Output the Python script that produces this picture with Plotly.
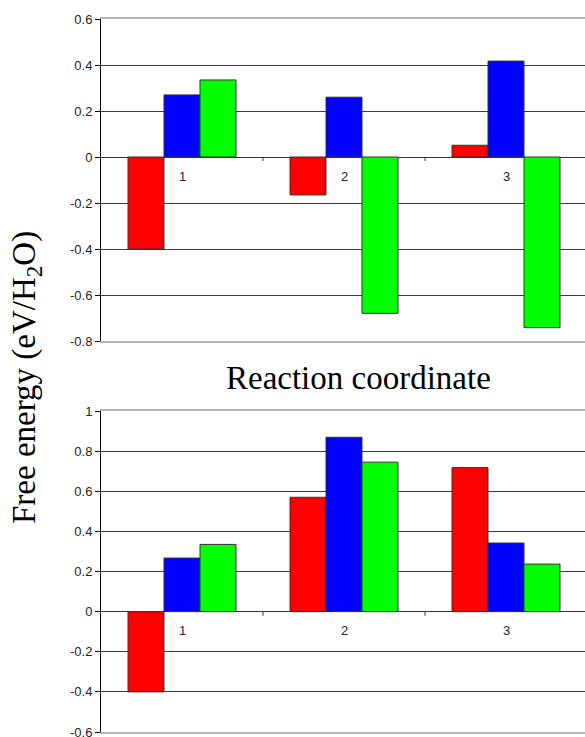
import plotly.graph_objects as go

categories = [1, 2, 3]
cat_labels = ["1", "2", "3"]

top_red = [-0.40, -0.165, 0.051]
top_blue = [0.27, 0.26, 0.417]
top_green = [0.335, -0.68, -0.742]

bot_red = [-0.40, 0.57, 0.718]
bot_blue = [0.267, 0.869, 0.342]
bot_green = [0.335, 0.745, 0.237]

top_ticks = [0.6, 0.4, 0.2, 0, -0.2, -0.4, -0.6, -0.8]
top_ticktext = ["0.6", "0.4", "0.2", "0", "-0.2", "-0.4", "-0.6", "-0.8"]
bot_ticks = [1, 0.8, 0.6, 0.4, 0.2, 0, -0.2, -0.4, -0.6]
bot_ticktext = ["1", "0.8", "0.6", "0.4", "0.2", "0", "-0.2", "-0.4", "-0.6"]

colors = ["#FF0000", "#0000FF", "#00FF00"]
outline = dict(color="#333333", width=1)

fig = go.Figure()
for vals, c in zip([top_red, top_blue, top_green], colors):
    fig.add_trace(go.Bar(x=categories, y=vals, marker=dict(color=c, line=outline),
                         xaxis="x", yaxis="y", showlegend=False, hoverinfo="skip"))
for vals, c in zip([bot_red, bot_blue, bot_green], colors):
    fig.add_trace(go.Bar(x=categories, y=vals, marker=dict(color=c, line=outline),
                         xaxis="x2", yaxis="y2", showlegend=False, hoverinfo="skip"))

W, H = 585, 737
xdom = [101 / W, 1.0]
xrange = [0.5, 0.5 + 3 * (W - 101) / 486]
tickfont = dict(family="Liberation Sans, Arial", size=13, color="#222222")

common_x = dict(range=xrange, domain=xdom, showticklabels=False, showgrid=False,
                zeroline=False, showline=True, linecolor="#b4b4b4", linewidth=2,
                mirror=True, ticks="", automargin=False)
common_y = dict(showgrid=True, gridcolor="#3c3c3c", gridwidth=1, zeroline=True,
                zerolinecolor="#333333", zerolinewidth=1, showline=True,
                linecolor="#000000", linewidth=1, ticks="outside", ticklen=5,
                tickcolor="#000000", tickfont=tickfont, automargin=False,
                ticklabeloverflow="allow")

fig.update_layout(
    width=W, height=H, margin=dict(l=0, r=0, t=0, b=0, autoexpand=False),
    paper_bgcolor="white", plot_bgcolor="white",
    barmode="group", bargap=1/3, bargroupgap=0,
    xaxis=dict(anchor="y", **common_x),
    yaxis=dict(anchor="x", domain=[(H - 341) / H, (H - 19) / H], range=[-0.8, 0.6],
               tickvals=top_ticks, ticktext=top_ticktext, **common_y),
    xaxis2=dict(anchor="y2", **common_x),
    yaxis2=dict(anchor="x2", domain=[(H - 732) / H, (H - 411) / H], range=[-0.6, 1.0],
                tickvals=bot_ticks, ticktext=bot_ticktext, **common_y),
)

annotations = []
for xa, ya in [("x", "y"), ("x2", "y2")]:
    for c, lab in zip(categories, cat_labels):
        annotations.append(dict(x=c, y=0, xref=xa, yref=ya, text=lab, showarrow=False,
                                yanchor="middle", yshift=-19,
                                font=dict(family="Liberation Sans, Arial", size=13, color="#222222")))
    for b in [1.5, 2.5]:
        fig.add_shape(type="line", xref=xa, yref=ya, x0=b, x1=b, ysizemode="pixel",
                      yanchor=0, y0=0, y1=-4, line=dict(color="#333333", width=1))

serif = dict(family="Liberation Serif, Times New Roman", size=33, color="black")
annotations.append(dict(x=358 / W, y=(H - 378) / H, xref="paper", yref="paper",
                        text="Reaction coordinate", showarrow=False, font=serif,
                        xanchor="center", yanchor="middle"))
annotations.append(dict(x=26 / W, y=(H - 378) / H, xref="paper", yref="paper",
                        text="Free energy (eV/H<sub>2</sub>O)", showarrow=False, font=serif,
                        textangle=-90, xanchor="center", yanchor="middle"))
fig.update_layout(annotations=annotations)

fig.write_html("out.html", config={"displayModeBar": False},
               post_script="document.body.style.margin='0';document.body.style.overflow='hidden';")
